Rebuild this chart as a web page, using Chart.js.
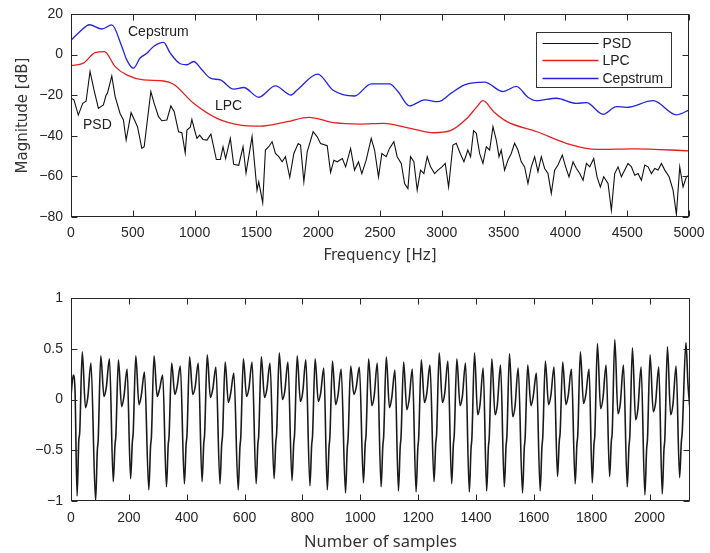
<!DOCTYPE html>
<html><head><meta charset="utf-8">
<script src="https://cdn.jsdelivr.net/npm/chart.js@4.4.1/dist/chart.umd.min.js"></script>
<style>
html,body{margin:0;padding:0;background:#fff;width:710px;height:553px;overflow:hidden;}
canvas{position:absolute;left:0;}
#c1{top:0;} #c2{top:280px;}
</style></head><body>
<canvas id="c1" width="710" height="280"></canvas>
<canvas id="c2" width="710" height="273"></canvas>
<script>
// ---------- Top panel data (frequency [Hz], magnitude [dB]) ----------
const psdF = [0,24,59,95,122,154,186,222,262,284,295,330,357,397,424,446,486,519,538,573,592,646,673,708,735,776,808,835,870,897,924,938,965,978,1000,1019,1041,1068,1100,1132,1154,1176,1208,1230,1251,1289,1316,1357,1392,1416,1465,1505,1519,1551,1573,1600,1627,1654,1681,1708,1735,1770,1803,1838,1857,1884,1911,1959,1992,2019,2073,2100,2127,2154,2195,2222,2262,2294,2326,2353,2388,2429,2456,2488,2515,2550,2577,2612,2639,2672,2699,2726,2747,2774,2801,2828,2855,2882,2909,2942,2969,3001,3028,3055,3090,3117,3149,3179,3211,3233,3257,3279,3306,3333,3360,3387,3414,3441,3463,3481,3508,3535,3562,3589,3616,3643,3670,3697,3724,3751,3778,3805,3832,3859,3886,3913,3940,3975,4002,4029,4062,4089,4116,4143,4170,4197,4229,4256,4283,4310,4345,4372,4399,4426,4453,4480,4507,4534,4561,4588,4615,4642,4669,4696,4723,4750,4777,4804,4839,4871,4898,4925,4952,4979,5000];
const psdDB = [-21.5,-22.3,-29.8,-24,-23,-8.3,-17.4,-26.5,-24.8,-19.9,-19,-10.5,-20.7,-29,-32.2,-42.1,-28.6,-33,-35.5,-46.2,-45.4,-18.2,-24,-30.6,-32.6,-32.2,-25.3,-28.1,-38,-38.5,-48.4,-37.2,-35.8,-31.9,-37.2,-41.3,-39.7,-41.8,-42.1,-39.2,-45.4,-51.7,-51.7,-45.4,-51.2,-41.3,-54,-54.5,-45.4,-58.3,-40.4,-66.8,-62.7,-72.9,-47,-45.4,-42.9,-48.7,-50.3,-52.8,-50.3,-60.5,-48.7,-43.8,-44.6,-62.7,-47.9,-38,-40.5,-43.8,-44.9,-58,-52,-52.8,-51.2,-55.3,-46.2,-56.9,-52.8,-58.6,-52,-41.3,-47,-60.2,-48.7,-50.3,-46.2,-42.9,-50.3,-53.6,-63.5,-66,-50.3,-52.8,-66.8,-56.9,-58.6,-50.3,-55.3,-58.6,-56.9,-55.3,-53.6,-65.2,-44.6,-43.7,-48.7,-52.8,-47,-50.3,-37.5,-38.8,-48.7,-53.6,-45.4,-47,-35.5,-42.1,-50.3,-47,-56.9,-52,-48.7,-43.7,-47,-52.8,-55.3,-63.5,-55.3,-50.3,-57.7,-50.3,-56.1,-58.6,-68.4,-56.9,-54.4,-49.5,-55.3,-60.2,-52.8,-56.1,-58.6,-61.9,-53.6,-55.3,-51.2,-60.2,-65.2,-60.2,-63.5,-76.7,-58.6,-55.3,-60.2,-56.9,-53.6,-55.3,-59.4,-58.6,-61.9,-54.4,-55.3,-58.6,-56.1,-56.9,-53.6,-56.9,-60.2,-66.8,-78.7,-55.3,-65.2,-60.2,-59.4];

const lpcF  = [0,100,195,270,357,451,586,749,830,992,1181,1370,1532,1749,1924,2127,2343,2529,2745,2934,3069,3204,3285,3333,3420,3528,3770,4013,4256,4553,5000];
const lpcDB = [-5.5,-4.2,1.0,1.5,-5.9,-10,-12.5,-13,-14.6,-24,-31.4,-34.7,-35.2,-33,-30.9,-33.5,-34.2,-33.9,-36.3,-38.5,-37.5,-31.4,-25.6,-22.7,-28.1,-33,-38,-43.8,-46.7,-46.4,-47.4];

const cepF  = [0,73,149,249,330,411,451,505,559,614,668,749,803,884,938,992,1059,1127,1208,1316,1397,1519,1654,1781,1830,1997,2118,2294,2429,2577,2645,2739,2861,2969,3076,3184,3346,3495,3603,3697,3765,3927,4089,4170,4305,4413,4494,4710,4898,5000];
const cepDB = [7.0,11.4,14.7,12.6,14.6,4,-2.6,-6.7,-1.7,0.7,4,6.0,0.7,-4.5,-5,-3.4,-7.5,-11.6,-12.5,-17,-16.2,-21,-15.4,-19.9,-17.4,-9.6,-17.4,-20.4,-14.4,-14.4,-18.2,-25.3,-22.3,-23.2,-19,-14.9,-13.6,-18.2,-15.7,-21,-22.7,-21.5,-24,-23.7,-29.4,-25.6,-26,-22.7,-29.7,-27.3];

const seriesNames = ['PSD','LPC','Cepstrum'];
const curveNotes  = ['Cepstrum','LPC','PSD'];

// ---------- Bottom panel data (sample index, amplitude) ----------
const waveN = [0,8,14,
21,27,30,39,50,58,69,
85,91,94,103,114,122,133,
146,152,155,164,175,183,194,
206,212,215,224,235,243,254,
269,275,278,287,298,306,317,
330,336,339,348,359,367,378,
392,398,401,410,421,429,440,
453,459,462,471,482,490,501,
515,521,524,533,544,552,563,
578,584,587,596,607,615,626,
640,646,649,658,669,677,688,
702,708,711,720,731,739,750,
764,770,773,782,793,801,812,
826,832,835,844,855,863,874,
886,892,895,904,915,923,934,
949,955,958,967,978,986,997,
1011,1017,1020,1029,1040,1048,1059,
1072,1078,1081,1090,1101,1109,1120,
1132,1138,1141,1150,1161,1169,1180,
1193,1199,1202,1211,1222,1230,1241,
1255,1261,1264,1273,1284,1292,1303,
1316,1322,1325,1334,1345,1353,1364,
1377,1383,1386,1395,1406,1414,1425,
1437,1443,1446,1455,1466,1474,1485,
1498,1504,1507,1516,1527,1535,1546,
1561,1567,1570,1579,1590,1598,1609,
1622,1628,1631,1640,1651,1659,1670,
1682,1688,1691,1700,1711,1719,1730,
1743,1749,1752,1761,1772,1780,1791,
1802,1808,1811,1820,1831,1839,1850,
1862,1868,1871,1880,1891,1899,1910,
1923,1929,1932,1941,1952,1960,1971,
1984,1990,1993,2002,2013,2021,2032,
2044,2050,2053,2062,2073,2081,2092,
2104,2110,2113,2126,2133,2139];
const waveV = [0.04,0.24,0.08,
-0.95,-0.40,-0.33,0.47,-0.08,0.02,0.36,
-1.0,-0.50,-0.40,0.43,0.03,0.12,0.40,
-0.81,-0.45,-0.36,0.39,-0.07,0.03,0.30,
-0.78,-0.42,-0.33,0.43,-0.05,0.04,0.27,
-0.89,-0.46,-0.37,0.43,0.03,0.10,0.24,
-0.86,-0.45,-0.36,0.36,0.05,0.13,0.33,
-0.83,-0.44,-0.35,0.42,0.05,0.12,0.36,
-0.81,-0.43,-0.34,0.44,0.02,0.10,0.32,
-0.83,-0.44,-0.35,0.37,-0.03,0.06,0.26,
-0.89,-0.47,-0.37,0.40,0.03,0.11,0.37,
-0.83,-0.44,-0.35,0.42,0.02,0.10,0.36,
-0.78,-0.42,-0.33,0.46,0.00,0.08,0.37,
-0.80,-0.43,-0.34,0.43,-0.02,0.07,0.39,
-0.85,-0.45,-0.36,0.40,-0.02,0.06,0.31,
-0.89,-0.47,-0.37,0.38,-0.05,0.04,0.30,
-0.92,-0.48,-0.38,0.33,0.05,0.12,0.32,
-0.82,-0.44,-0.35,0.40,-0.06,0.03,0.36,
-0.86,-0.46,-0.36,0.42,-0.08,0.02,0.29,
-0.90,-0.47,-0.37,0.37,-0.10,0.00,0.30,
-0.91,-0.48,-0.38,0.39,-0.03,0.06,0.34,
-0.81,-0.43,-0.34,0.46,-0.03,0.06,0.38,
-0.83,-0.44,-0.35,0.40,-0.06,0.03,0.36,
-0.91,-0.48,-0.38,0.46,-0.15,-0.05,0.31,
-0.90,-0.47,-0.37,0.40,-0.15,-0.05,0.34,
-0.86,-0.46,-0.36,0.45,-0.17,-0.07,0.31,
-0.92,-0.48,-0.38,0.34,-0.06,0.03,0.26,
-0.90,-0.47,-0.37,0.38,-0.05,0.04,0.32,
-0.76,-0.41,-0.33,0.37,-0.05,0.04,0.30,
-0.83,-0.44,-0.35,0.47,-0.04,0.05,0.30,
-0.82,-0.44,-0.35,0.55,-0.09,0.01,0.34,
-0.76,-0.41,-0.33,0.59,-0.14,-0.04,0.34,
-0.86,-0.46,-0.36,0.51,-0.20,-0.09,0.32,
-0.94,-0.49,-0.39,0.44,-0.12,-0.03,0.32,
-0.93,-0.49,-0.39,0.52,-0.15,-0.05,0.33,
-0.77,-0.42,-0.33,0.56,0.15,-0.07];

// ---------- helpers ----------
const pts = (xs, ys) => xs.map((v, i) => ({x: v, y: ys[i]}));
const fmt = v => (v < 0 ? '\u2212' + Math.abs(v) : String(v));
const AXC = '#262626';
const tickFont = {family: "'Liberation Sans', Arial, sans-serif", size: 14, lineHeight: 1.2};

const frameTicks = {
  id: 'frameTicks',
  afterDatasetsDraw(chart, args, o) {
    const {ctx, chartArea: a, scales: {x, y}} = chart;
    const L = Math.round(a.left) + 0.5, R = Math.round(a.right) - 0.5;
    const T = Math.round(a.top) + 0.5, B = Math.round(a.bottom) - 0.5;
    ctx.save();
    ctx.strokeStyle = o.color; ctx.lineWidth = 1;
    ctx.beginPath();
    x.ticks.forEach(t => {
      const p = Math.round(x.getPixelForValue(t.value)) + 0.5;
      ctx.moveTo(p, B); ctx.lineTo(p, B - o.len);
      ctx.moveTo(p, T); ctx.lineTo(p, T + o.len);
    });
    y.ticks.forEach(t => {
      const p = Math.round(y.getPixelForValue(t.value)) + 0.5;
      ctx.moveTo(L, p); ctx.lineTo(L + o.len, p);
      ctx.moveTo(R, p); ctx.lineTo(R - o.len, p);
    });
    ctx.stroke();
    ctx.strokeRect(L, T, R - L, B - T);
    ctx.restore();
  }
};

const boxLegend = {
  id: 'boxLegend',
  afterDraw(chart, args, o) {
    if (!o.show) return;
    const {ctx, chartArea: a} = chart;
    const bx = Math.round(a.right - o.right - o.width) + 0.5, by = Math.round(a.top + o.top) + 0.5;
    ctx.save();
    ctx.fillStyle = '#fff'; ctx.fillRect(bx, by, o.width, o.height);
    ctx.strokeStyle = o.border; ctx.lineWidth = 1; ctx.strokeRect(bx, by, o.width, o.height);
    ctx.font = o.font; ctx.textBaseline = 'middle'; ctx.textAlign = 'left';
    chart.data.datasets.forEach((d, i) => {
      const yy = Math.round(by + o.first + i * o.step) + 0.5;
      ctx.strokeStyle = d.borderColor; ctx.lineWidth = d.borderWidth;
      ctx.beginPath(); ctx.moveTo(bx + o.lineStart, yy); ctx.lineTo(bx + o.lineEnd, yy); ctx.stroke();
      ctx.fillStyle = o.textColor;
      ctx.fillText(d.label, bx + o.textX, yy + 1);
    });
    ctx.restore();
  }
};

const curveLabels = {
  id: 'curveLabels',
  afterDatasetsDraw(chart, args, o) {
    if (!o.items) return;
    const {ctx, scales: {x, y}} = chart;
    ctx.save(); ctx.font = o.font; ctx.fillStyle = o.color;
    ctx.textBaseline = 'middle'; ctx.textAlign = 'left';
    o.items.forEach(it => ctx.fillText(it.text, x.getPixelForValue(it.x), y.getPixelForValue(it.y)));
    ctx.restore();
  }
};

function xAxis(min, max, step, title, titleFont, h, pad, tpad) {
  return {
    type: 'linear', min, max,
    grid: {display: false, drawTicks: false}, border: {display: false},
    ticks: {stepSize: step, padding: pad, color: AXC, font: tickFont, maxRotation: 0, autoSkip: false, includeBounds: false, callback: fmt},
    title: {display: true, text: title, color: '#333', font: titleFont, padding: {top: 0, bottom: tpad}},
    afterFit(s) { s.height = h; s.paddingLeft = 0; s.paddingRight = 0; }
  };
}
function yAxis(min, max, step, title) {
  return {
    type: 'linear', min, max,
    grid: {display: false, drawTicks: false}, border: {display: false},
    ticks: {stepSize: step, padding: 8, color: AXC, font: tickFont, autoSkip: false, includeBounds: false, callback: fmt},
    title: title ? {display: true, text: title, color: '#333', font: {family: "'DejaVu Sans', sans-serif", size: 15, lineHeight: 1.2}, padding: {top: 14, bottom: 0}} : {display: false},
    afterFit(s) { s.width = 71; s.paddingTop = 0; s.paddingBottom = 0; }
  };
}

const common = {responsive: false, animation: false, devicePixelRatio: 1, normalized: true,
  events: []};

// ---------- Top chart ----------
new Chart(document.getElementById('c1'), {
  type: 'line',
  data: {datasets: [
    {label: seriesNames[0], data: pts(psdF, psdDB), borderColor: '#111', borderWidth: 1.1, pointRadius: 0, tension: 0},
    {label: seriesNames[1], data: pts(lpcF, lpcDB), borderColor: 'rgb(232,30,30)', borderWidth: 1.3, pointRadius: 0, cubicInterpolationMode: 'monotone'},
    {label: seriesNames[2], data: pts(cepF, cepDB), borderColor: 'rgb(35,35,225)', borderWidth: 1.3, pointRadius: 0, cubicInterpolationMode: 'monotone'}
  ]},
  options: Object.assign({}, common, {
    layout: {padding: {left: 0, right: 21, top: 14, bottom: 13}},
    plugins: {
      legend: {display: false}, tooltip: {enabled: false},
      frameTicks: {color: AXC, len: 6},
      boxLegend: {show: true, width: 135, height: 55, right: 18, top: 18, first: 10, step: 17.7,
        lineStart: 6, lineEnd: 62, textX: 66, border: '#333', textColor: '#222',
        font: "14px 'Liberation Sans', Arial, sans-serif"},
      curveLabels: {font: "14px 'Liberation Sans', Arial, sans-serif", color: '#222', items: [
        {text: curveNotes[0], x: 461, y: 11.3},
        {text: curveNotes[1], x: 1165, y: -25.3},
        {text: curveNotes[2], x: 97, y: -34.7}
      ]}
    },
    scales: {
      x: xAxis(0, 5000, 500, 'Frequency [Hz]', {family: "'DejaVu Sans', sans-serif", size: 15, lineHeight: 1.2}, 50, 8, 1.5),
      y: yAxis(-80, 20, 20, 'Magnitude [dB]')
    }
  }),
  plugins: [frameTicks, boxLegend, curveLabels]
});

// ---------- Bottom chart ----------
new Chart(document.getElementById('c2'), {
  type: 'line',
  data: {datasets: [
    {label: 'signal', data: pts(waveN, waveV), borderColor: '#1a1a1a', borderWidth: 1.6, pointRadius: 0, cubicInterpolationMode: 'monotone'}
  ]},
  options: Object.assign({}, common, {
    layout: {padding: {left: 0, right: 20, top: 18, bottom: 0}},
    plugins: {
      legend: {display: false}, tooltip: {enabled: false},
      frameTicks: {color: AXC, len: 6},
      boxLegend: {show: false}, curveLabels: {}
    },
    scales: {
      x: xAxis(0, 2140, 200, 'Number of samples', {family: "'Noto Sans', sans-serif", size: 16.5, lineHeight: 1.2}, 52, 9, 1),
      y: yAxis(-1, 1, 0.5, null)
    }
  }),
  plugins: [frameTicks, curveLabels]
});
</script>
</body></html>
